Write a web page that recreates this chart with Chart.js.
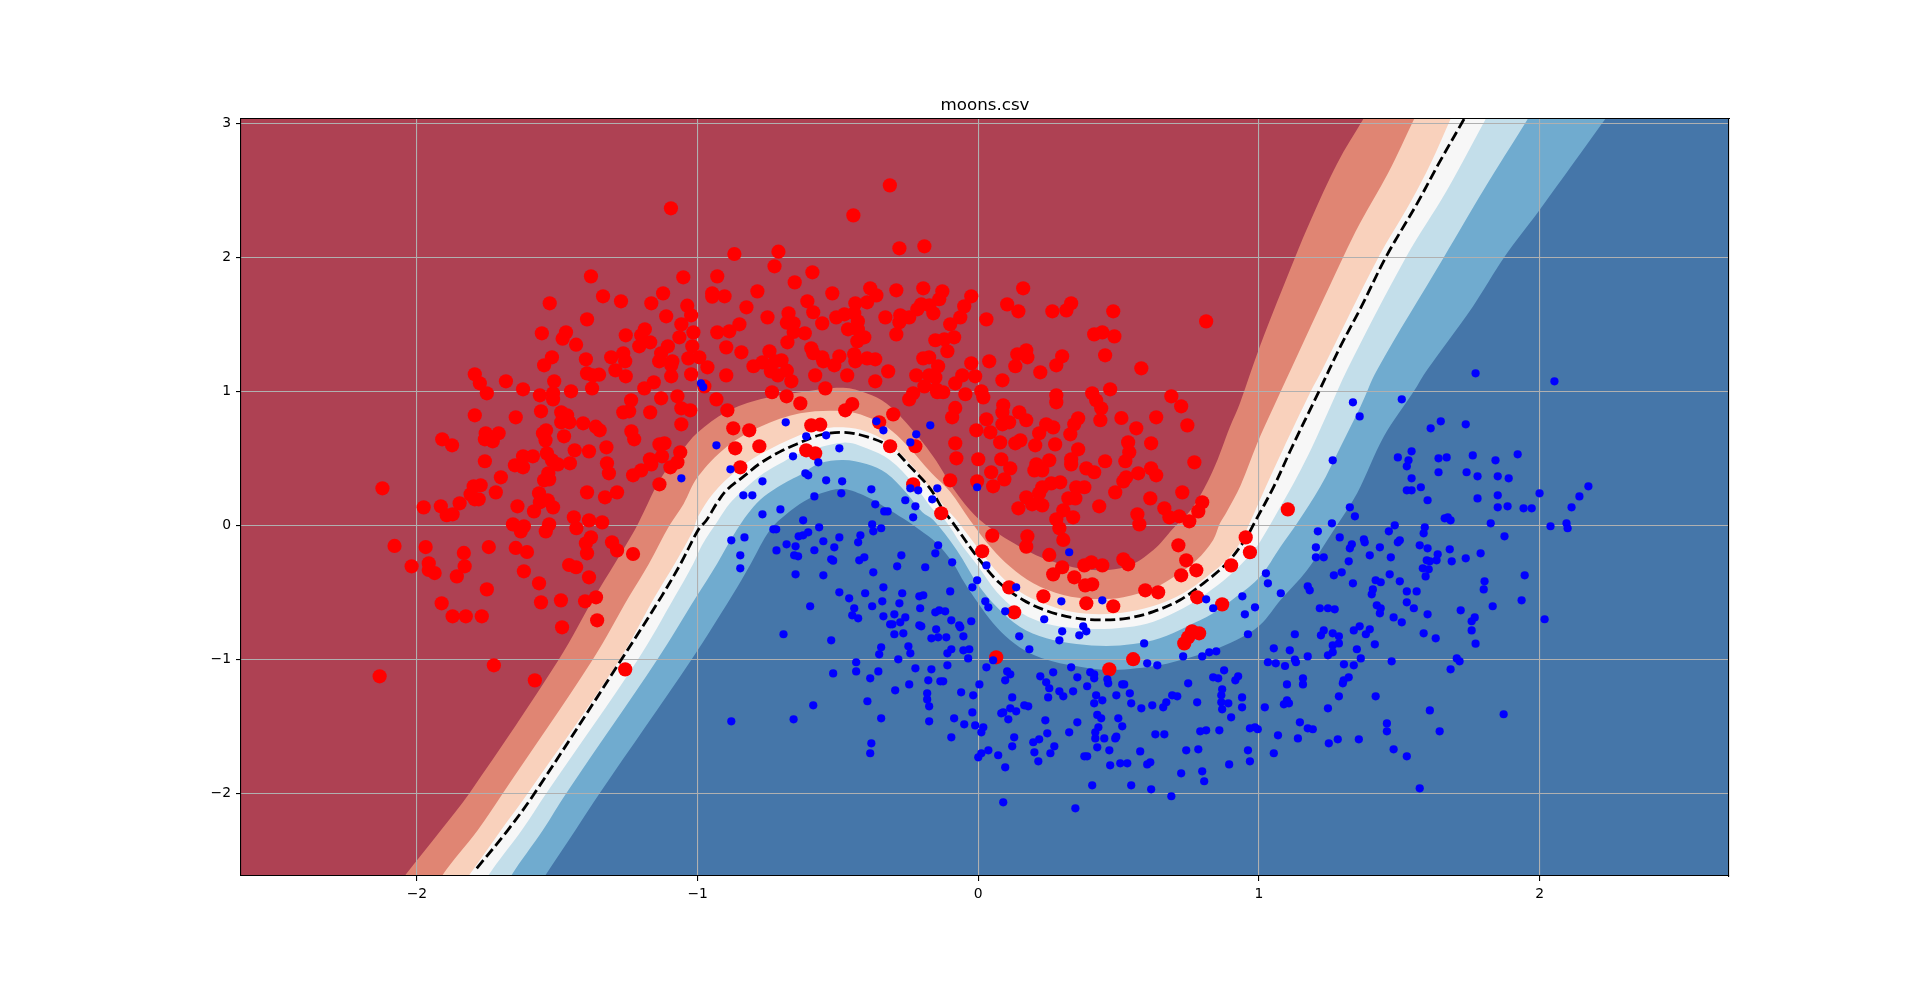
<!DOCTYPE html>
<html>
<head>
<meta charset="utf-8">
<script src="https://cdn.jsdelivr.net/npm/chart.js@4"></script>
<style>html,body{margin:0;padding:0;background:#fff}canvas{display:block}</style>
</head>
<body>
<canvas id="c" width="1920" height="983"></canvas>
<script>
const titleText = "moons.csv";
const xRange = [-2.627, 2.675];
const yRange = [-2.617, 3.032];

const redPoints = [[-1.095,2.366],[-0.445,2.313],[-0.315,2.537],
[-0.869,2.025],[-0.712,2.042],[-0.726,1.933],[-1.38,1.858],[-1.051,1.851],[-0.93,1.858],[-0.654,1.813],[-1.337,1.709],[-1.273,1.672],[-1.123,1.731],[-1.165,1.657],[-0.948,1.731],[-0.948,1.706],[-0.904,1.709],[-0.787,1.746],[-1.527,1.657],[-1.037,1.639],[-1.023,1.567],[-0.826,1.627],[-1.112,1.56],[-0.751,1.552],[-0.676,1.582],[-1.394,1.537],[-1.058,1.5],[-0.851,1.5],[-0.682,1.512],[-0.658,1.507],[-1.555,1.433],[-1.469,1.44],[-1.481,1.393],[-1.188,1.463],[-1.201,1.418],[-1.256,1.418],[-1.015,1.44],[-0.93,1.44],[-0.887,1.448],[-0.658,1.443],[-1.065,1.403],[-1.433,1.348],[-1.169,1.366],[-1.208,1.336],[-1.019,1.336],[-1.106,1.336],[-0.898,1.328],[-0.844,1.291],[-0.744,1.299],[-0.68,1.366],[-1.519,1.254],[-1.265,1.284],[-1.398,1.239],[-1.308,1.254],[-1.258,1.224],[-1.13,1.284],[-1.137,1.224],[-1.09,1.224],[-1.033,1.246],[-0.994,1.254],[-0.701,1.231],[-0.723,1.224],[-1.547,1.194],[-1.094,1.194],[-0.965,1.179],[-0.801,1.187],[-0.769,1.216],[-1.293,1.157],[-1.394,1.134],[-1.373,1.119],[-1.351,1.124],[-1.256,1.112],[-1.094,1.112],[-1.023,1.127],[-0.898,1.119],[-0.739,1.149],[-0.714,1.119],[-0.682,1.154],[-1.794,1.127],[-1.776,1.06],[-1.683,1.075],[-1.511,1.075],[-1.156,1.067],[-0.666,1.075],[-0.976,1.037],[-1.751,0.985],[-1.622,1.015],[-1.562,0.97],[-1.515,0.985],[-1.515,0.94],[-1.451,1.0],[-1.376,1.022],[-1.19,1.022],[-0.735,0.993],[-0.683,0.963],[-1.072,0.963],[-1.13,0.948],[-0.933,0.94],[-1.237,0.933],[-0.634,0.91],[-1.558,0.851],[-1.058,0.873],[-1.026,0.858],[-0.894,0.858],[-1.486,0.843],[-1.465,0.821],[-1.265,0.843],[-1.244,0.851],[-1.169,0.843],[-1.794,0.821],[-1.648,0.806],[-1.486,0.769],[-1.457,0.769],[-1.408,0.761],[-1.058,0.754],[-1.363,0.736],[-1.349,0.709],[-1.54,0.709],[-1.551,0.687],[-1.236,0.701],[-0.873,0.724],[-0.816,0.709],[-1.755,0.687],[-1.709,0.687],[-1.476,0.664],[-1.91,0.642],[-1.758,0.642],[-1.73,0.627],[-1.542,0.634],[-1.226,0.642],[-1.875,0.597],[-1.118,0.612],[-1.136,0.604],[-1.325,0.582],[-0.78,0.59],[-0.866,0.575],[-1.438,0.56],[-1.387,0.552],[-1.062,0.545],[-1.537,0.537],[-1.622,0.515],[-1.587,0.515],[-1.127,0.515],[-1.758,0.478],[-1.519,0.485],[-1.498,0.455],[-1.455,0.463],[-1.323,0.463],[-1.17,0.493],[-1.165,0.455],[-1.651,0.448],[-1.622,0.433],[-1.072,0.47],[-1.097,0.433],[-0.848,0.433],[-1.316,0.388],[-1.201,0.41],[-1.23,0.373],[-1.701,0.358],[-1.532,0.388],[-1.529,0.343],[-1.547,0.336],[-2.123,0.276],[-1.136,0.306],[-1.798,0.291],[-1.773,0.299],[-1.809,0.231],[-1.719,0.246],[-1.565,0.239],[-1.394,0.246],[-1.287,0.246],[-1.33,0.209],[-1.78,0.194],[-1.794,0.194],[-1.534,0.187],[-1.562,0.172],[-1.848,0.164],[-1.976,0.134],[-1.915,0.142],[-1.515,0.134],[-1.642,0.142],[-1.583,0.104],[-1.873,0.082],[-1.894,0.075],[-1.441,0.06],[-1.387,0.037],[-1.34,0.022],[-1.529,0.007],[-1.658,0.007],[-1.619,-0.007],[-1.432,-0.022],[-1.63,-0.045],[-1.541,-0.045],
[-1.38,-0.09],[-1.398,-0.134],[-1.305,-0.127],[-2.08,-0.154],[-1.969,-0.162],[-1.744,-0.162],[-1.648,-0.169],[-1.608,-0.199],[-1.833,-0.206],[-1.394,-0.209],[-1.287,-0.187],[-1.23,-0.214],[-1.958,-0.284],[-2.019,-0.306],[-1.83,-0.306],[-1.958,-0.333],[-1.937,-0.356],[-1.458,-0.296],[-1.433,-0.313],[-1.619,-0.343],[-1.858,-0.381],[-1.387,-0.388],[-1.565,-0.433],[-1.751,-0.478],[-1.362,-0.537],[-1.487,-0.56],[-1.401,-0.567],[-1.558,-0.575],[-1.912,-0.582],[-1.358,-0.709],[-1.873,-0.679],[-1.826,-0.679],[-1.769,-0.679],[-1.483,-0.761],[-1.726,-1.045],[-2.133,-1.127],[-1.58,-1.157],[-1.258,-1.075],
[-0.281,2.067],[-0.192,2.082],[-0.591,1.888],[-0.52,1.731],[-0.385,1.769],[-0.363,1.716],[-0.292,1.754],[-0.196,1.769],[-0.128,1.746],[0.16,1.769],[-0.609,1.672],[-0.438,1.657],[-0.396,1.664],[-0.139,1.687],[-0.025,1.709],[0.103,1.649],[0.331,1.657],[-0.05,1.634],[-0.588,1.59],[-0.203,1.649],[-0.217,1.612],[-0.174,1.642],[-0.16,1.582],[0.143,1.597],[0.264,1.597],[0.314,1.604],[0.481,1.597],[-0.506,1.552],[-0.477,1.575],[-0.442,1.582],[-0.331,1.552],[-0.278,1.567],[-0.246,1.552],[-0.281,1.515],[-0.064,1.552],[0.029,1.537],[0.812,1.522],[-0.556,1.507],[-0.429,1.522],[-0.1,1.5],[-0.464,1.463],[-0.429,1.463],[-0.618,1.433],[-0.292,1.425],[-0.406,1.403],[-0.431,1.373],[-0.086,1.403],[-0.153,1.381],[-0.121,1.388],[0.413,1.425],[0.442,1.44],[0.485,1.41],[-0.595,1.321],[-0.11,1.299],[-0.588,1.284],[-0.556,1.254],[-0.495,1.261],[-0.442,1.276],[0.139,1.276],[0.171,1.306],[0.175,1.254],[0.299,1.261],[0.452,1.269],[-0.552,1.224],[-0.513,1.194],[-0.438,1.224],[-0.396,1.246],[-0.367,1.239],[-0.196,1.246],[-0.175,1.254],[-0.025,1.209],[0.039,1.224],[-0.143,1.187],[0.132,1.187],[0.278,1.194],[0.581,1.172],[-0.321,1.149],[-0.581,1.119],[-0.467,1.119],[-0.221,1.119],[-0.175,1.119],[-0.153,1.104],[-0.057,1.119],[-0.011,1.112],[0.221,1.142],[-0.367,1.075],[0.086,1.082],[-0.082,1.06],[-0.192,1.037],[-0.545,1.022],[0.47,1.015],[-0.232,0.985],[-0.15,1.015],[-0.146,0.993],[-0.125,0.993],[-0.046,0.978],[0.011,1.0],[0.018,0.955],[0.278,0.97],[0.278,0.918],[0.406,0.985],[-0.246,0.94],[0.42,0.933],[0.688,0.963],[0.723,0.888],[-0.449,0.905],[0.089,0.896],[-0.082,0.876],[-0.474,0.858],[0.438,0.873],[0.086,0.843],[0.146,0.843],[-0.303,0.828],[-0.093,0.806],[0.634,0.806],[0.51,0.801],[0.356,0.799],[0.435,0.784],[0.029,0.791],[0.171,0.784],[0.11,0.769],[0.086,0.754],[-0.353,0.769],[-0.595,0.746],[-0.563,0.751],[0.242,0.754],[0.267,0.731],[0.342,0.754],[0.563,0.724],[0.745,0.746],[-0.007,0.709],[0.043,0.694],[0.217,0.687],[0.328,0.679],[-0.082,0.612],[0.078,0.619],[0.15,0.634],[0.132,0.612],[0.203,0.597],[0.274,0.604],[0.534,0.619],[0.616,0.612],[-0.314,0.59],[-0.224,0.59],[-0.613,0.56],[-0.581,0.537],[0.356,0.567],[0.538,0.545],[-0.078,0.5],[0,0.493],[0.082,0.493],[0.253,0.485],[0.331,0.493],[0.452,0.478],[0.524,0.478],[0.77,0.47],[0.331,0.455],[0.207,0.455],[0.114,0.425],[0.385,0.425],[0.2,0.41],[0.228,0.41],[0.413,0.396],[0.616,0.425],[0.57,0.388],[0.634,0.373],[0.046,0.396],[0.527,0.358],[0.517,0.328],[-0.1,0.336],[-0.004,0.328],[0.093,0.343],[-0.232,0.306],[0.053,0.291],[0.26,0.313],[0.292,0.321],[0.228,0.284],[0.349,0.284],[0.378,0.284],[0.217,0.239],[0.488,0.246],[0.727,0.246],[0.171,0.209],[0.321,0.201],[0.346,0.201],[0.613,0.201],[0.798,0.172],[0.192,0.157],[0.228,0.149],[0.143,0.127],[0.431,0.142],[0.303,0.112],[0.663,0.127],[0.784,0.104],[-0.132,0.09],[0.338,0.06],[0.567,0.082],[0.681,0.06],[0.716,0.067],[0.278,0.045],[0.752,0.03],[0.574,0.007],[0.289,-0.022],
[0.05,-0.077],[0.175,-0.082],[0.171,-0.159],[0.303,-0.109],[0.014,-0.194],[0.253,-0.221],[0.713,-0.149],[0.741,-0.261],[0.517,-0.254],[0.534,-0.291],[0.299,-0.313],[0.378,-0.299],[0.403,-0.276],[0.442,-0.299],[0.777,-0.336],[0.901,-0.299],[0.723,-0.373],[0.267,-0.366],[0.342,-0.388],[0.11,-0.463],[0.381,-0.448],[0.406,-0.44],[0.595,-0.485],[0.641,-0.5],[0.232,-0.53],[0.78,-0.537],[0.385,-0.582],[0.481,-0.604],[0.869,-0.59],[0.128,-0.649],[0.762,-0.791],[0.787,-0.806],[0.748,-0.836],[0.734,-0.881],[0.552,-0.999],[0.064,-0.985],[0.467,-1.075],[0.953,-0.09],[0.968,-0.201],[1.103,0.119]];

const bluePoints = [[-0.98,1.032],[-0.988,1.06],[-0.686,0.769],[-0.933,0.597],[-0.66,0.515],[-1.058,0.351],[-0.883,0.418],[-0.769,0.328],[-0.837,0.224],[-0.805,0.224],[-0.769,0.082],[-0.705,0.119],[-0.73,-0.03],[-0.72,-0.03],[-0.833,-0.09],[-0.88,-0.112],[-0.64,-0.082],
[-0.683,-0.142],[-0.651,-0.157],[-0.719,-0.187],[-0.848,-0.224],[-0.656,-0.224],[-0.642,-0.231],[-0.848,-0.321],[-0.651,-0.366],[-0.694,-0.813],[-0.88,-1.463],[-0.658,-1.448],
[-0.613,0.664],[-0.542,0.672],[-0.363,0.776],[-0.338,0.709],[-0.221,0.679],[-0.171,0.746],[-0.242,0.619],[-0.495,0.575],[-0.57,0.47],[-0.616,0.388],[-0.606,0.373],[-0.542,0.336],[-0.485,0.328],[-0.381,0.269],[-0.488,0.239],[-0.584,0.216],[-0.214,0.261],[-0.146,0.276],[-0.004,0.284],[-0.242,0.276],[-0.26,0.187],[-0.164,0.194],[-0.367,0.157],[-0.224,0.142],[-0.335,0.104],[-0.323,0.104],[-0.232,0.06],[-0.624,0.037],[-0.378,0.007],[-0.567,-0.015],[-0.346,-0.022],[-0.374,-0.045],[-0.606,-0.052],[-0.42,-0.075],[-0.495,-0.09],[-0.624,-0.075],[-0.552,-0.119],
[-0.428,-0.127],[-0.513,-0.164],[-0.584,-0.186],[-0.143,-0.149],[-0.153,-0.209],[-0.274,-0.224],[-0.406,-0.239],[-0.424,-0.261],[-0.524,-0.254],[-0.517,-0.264],[-0.093,-0.276],[-0.289,-0.306],[-0.189,-0.313],[0.029,-0.299],[0.324,-0.201],[-0.374,-0.351],[-0.552,-0.373],[-0.004,-0.41],[-0.021,-0.463],[0.135,-0.463],[-0.338,-0.463],[-0.1,-0.493],[-0.495,-0.5],[-0.403,-0.507],[-0.271,-0.507],[-0.21,-0.53],[-0.196,-0.522],[-0.46,-0.545],[-0.342,-0.567],[-0.281,-0.582],[0.296,-0.567],[0.442,-0.56],[0.025,-0.567],[-0.599,-0.604],[-0.378,-0.604],[-0.442,-0.619],[0.036,-0.612],[-0.207,-0.619],[0.812,-0.552],[0.837,-0.619],[-0.449,-0.672],[-0.153,-0.649],[-0.139,-0.634],[-0.118,-0.642],[0.096,-0.642],[-0.338,-0.679],[-0.299,-0.664],[-0.428,-0.694],[-0.26,-0.687],[0.235,-0.701],[-0.025,-0.716],[-0.096,-0.709],[-0.278,-0.724],[-0.314,-0.739],[-0.306,-0.739],[-0.21,-0.746],[-0.203,-0.754],[-0.068,-0.746],[-0.064,-0.761],[0.374,-0.754],[0.385,-0.791],[0.299,-0.791],[-0.15,-0.776],[-0.299,-0.813],[-0.267,-0.806],[0.36,-0.821],[-0.167,-0.843],[-0.143,-0.836],[-0.114,-0.836],[-0.053,-0.828],[0.146,-0.828],[0.289,-0.858],[-0.524,-0.858],[0.591,-0.881],[-0.249,-0.903],[-0.346,-0.91],[0.182,-0.925],[-0.096,-0.925],[-0.053,-0.933],[-0.032,-0.925],[-0.353,-0.963],[-0.242,-0.955],[-0.11,-0.955],[-0.036,-0.993],[-0.285,-1],[0.053,-1.007],[0.73,-0.978],[0.798,-0.978],[0.823,-0.948],[0.848,-0.94],[-0.435,-1.022],[-0.11,-1.045],[0.602,-1.03],[0.638,-1.045],[-0.224,-1.067],[-0.167,-1.075],[-0.435,-1.09],[0.029,-1.06],[0.331,-1.06],[0.103,-1.09],[0.114,-1.112],[-0.356,-1.09],[0.267,-1.097],[0.399,-1.097],[0.413,-1.112],[-0.517,-1.105],[0.413,-1.142],[0.221,-1.127],[0.353,-1.134],[0.876,-1.082],[-0.385,-1.142],[0.837,-1.134],[0.855,-1.142],[0.926,-1.127],[0.916,-1.157],[-0.178,-1.157],[-0.135,-1.164],[-0.125,-1.164],[0.096,-1.157],[0.242,-1.172],[0.46,-1.149],[0.463,-1.179],[-0.246,-1.187],[0.004,-1.187],[0.388,-1.201],[0.513,-1.187],[0.52,-1.187],[0.748,-1.179],[0.253,-1.216],[-0.296,-1.231],[0.338,-1.239],[0.289,-1.239],[0.869,-1.224],[-0.061,-1.246],[-0.182,-1.254],[-0.018,-1.269],[0.42,-1.269],[0.492,-1.269],[0.54,-1.254],[0.691,-1.269],[0.709,-1.276],[0.866,-1.269],[0.121,-1.284],[0.249,-1.284],[0.303,-1.276],[-0.182,-1.299],[0.442,-1.306],[-0.395,-1.313],[0.78,-1.321],[0.67,-1.321],[0.866,-1.321],[0.891,-1.328],[0.413,-1.328],[0.545,-1.328],[-0.588,-1.343],[-0.175,-1.351],[0.164,-1.343],[0.178,-1.351],[0.581,-1.366],[0.62,-1.343],[0.659,-1.358],[0.114,-1.366],[0.869,-1.373],[-0.021,-1.396],[0.135,-1.388],[0.082,-1.403],[0.089,-1.396],[0.424,-1.415],[0.438,-1.44],[-0.346,-1.44],[-0.086,-1.44],[0.107,-1.448],[0.239,-1.455],[0.499,-1.44],[0.901,-1.433],[-0.175,-1.463],[0.353,-1.47],[-0.05,-1.485],[-0.011,-1.493],[0.513,-1.5],[0.018,-1.507],[0.428,-1.507],[0.011,-1.545],[0.246,-1.552],[0.324,-1.545],[0.417,-1.545],[0.631,-1.56],[0.663,-1.56],[0.791,-1.537],[0.812,-1.53],[0.859,-1.53],[-0.096,-1.582],[0.128,-1.582],[0.217,-1.597],[0.417,-1.59],[0.449,-1.59],[0.492,-1.577],[0.488,-1.59],[0.196,-1.619],[-0.381,-1.627],[0.121,-1.649],[0.271,-1.649],[0.424,-1.657],[0.036,-1.679],[0.467,-1.679],[0.577,-1.687],[0.741,-1.679],[0.784,-1.672],[-0.385,-1.701],[0.2,-1.694],[0.257,-1.701],[0.011,-1.701],[0,-1.731],[0.071,-1.716],[0.378,-1.724],[0.388,-1.724],[0.214,-1.761],[0.506,-1.776],[0.531,-1.776],[0.613,-1.769],[0.602,-1.784],[0.47,-1.791],[0.894,-1.784],[0.096,-1.806],[0.798,-1.836],[0.723,-1.851],[0.805,-1.91],[0.406,-1.94],[0.545,-1.94],[0.616,-1.97],[0.688,-2.022],[0.089,-2.067],[0.346,-2.112],
[1.772,1.134],[2.053,1.075],[1.335,0.918],[1.509,0.94],[1.359,0.813],[1.648,0.776],[1.737,0.754],[1.612,0.724],[1.544,0.552],[1.495,0.507],[1.922,0.53],[1.762,0.522],[1.669,0.507],[1.64,0.5],[1.533,0.485],[1.843,0.485],[1.263,0.485],[1.527,0.44],[1.64,0.396],[1.74,0.396],[1.779,0.366],[1.851,0.366],[1.89,0.351],[1.544,0.351],[1.577,0.284],[1.527,0.261],[1.544,0.261],[2.174,0.291],[2.0,0.239],[2.142,0.216],[1.851,0.224],[1.779,0.201],[1.601,0.187],[1.851,0.134],[1.886,0.142],[1.943,0.127],[1.972,0.127],[2.114,0.134],[1.324,0.134],[1.342,0.067],[1.673,0.06],[1.662,0.052],[1.683,0.037],[1.26,0.015],[1.484,0],[1.826,0.015],[2.096,0.015],[1.591,-0.015],[2.039,-0.007],[2.1,-0.022],[1.21,-0.045],[1.463,-0.045],[1.587,-0.06],[1.288,-0.09],[1.875,-0.082],[1.374,-0.104],[1.377,-0.127],[1.502,-0.112],[1.495,-0.127],[1.331,-0.142],[1.324,-0.172],[1.573,-0.149],[1.431,-0.164],[1.203,-0.164],[1.601,-0.172],[1.68,-0.179],[1.637,-0.216],[1.395,-0.224],[1.79,-0.209],[1.203,-0.239],[1.231,-0.239],[1.47,-0.239],[1.737,-0.246],[1.598,-0.261],[1.609,-0.269],[1.633,-0.261],[1.687,-0.269],[1.32,-0.269],[1.584,-0.321],[1.605,-0.328],[1.295,-0.351],[1.025,-0.358],[1.466,-0.366],[1.267,-0.373],[1.947,-0.373],[1.594,-0.381],[1.416,-0.41],[1.434,-0.425],[1.804,-0.418],[1.502,-0.418],[1.032,-0.433],[1.335,-0.433],[1.174,-0.455],[1.406,-0.478],[1.801,-0.478],[1.181,-0.485],[1.527,-0.493],[1.562,-0.493],[1.402,-0.515],[1.078,-0.507],[0.941,-0.53],[1.936,-0.56],[1.527,-0.575],[1.42,-0.597],[1.434,-0.619],[1.833,-0.604],[0.986,-0.612],[1.217,-0.619],[1.246,-0.619],[1.27,-0.627],[1.552,-0.619],[1.719,-0.634],[1.431,-0.657],[1.601,-0.664],[0.95,-0.664],[1.48,-0.687],[1.769,-0.687],[2.018,-0.701],[1.758,-0.716],[1.509,-0.724],[1.359,-0.754],[1.231,-0.784],[1.338,-0.784],[1.395,-0.776],[1.758,-0.784],[1.128,-0.813],[1.221,-0.821],[1.263,-0.806],[1.285,-0.828],[1.381,-0.813],[1.587,-0.806],[0.961,-0.813],[1.63,-0.843],[1.772,-0.883],[1.263,-0.896],[1.285,-0.881],[1.413,-0.888],[1.053,-0.918],[1.11,-0.933],[1.349,-0.925],[1.263,-0.948],[1.246,-0.97],[1.174,-0.978],[1.363,-0.993],[1.705,-0.993],[1.715,-1.015],[1.128,-1.002],[1.132,-1.022],[1.032,-1.022],[1.06,-1.03],[1.093,-1.05],[1.303,-1.037],[1.338,-1.045],[1.473,-1.015],[1.683,-1.075],
[1.1,-1.187],[1.157,-1.142],[1.157,-1.187],[1.32,-1.134],[1.302,-1.157],[1.299,-1.179],[0.94,-1.284],[0.94,-1.358],[1.021,-1.358],[0.961,-1.679],[0.968,-1.761],[0.986,-1.507],[0.968,-1.515],[0.996,-1.522],[1.285,-1.276],[1.416,-1.276],[1.089,-1.336],[1.1,-1.306],[1.107,-1.328],[1.246,-1.366],[1.609,-1.381],[1.872,-1.41],[1.146,-1.47],[1.174,-1.515],[1.192,-1.522],[1.456,-1.478],[1.456,-1.537],[1.644,-1.537],[1.068,-1.567],[1.139,-1.59],[1.281,-1.597],[1.249,-1.627],[1.356,-1.597],[1.48,-1.672],[1.053,-1.701],[1.527,-1.724],[1.573,-1.963]];

const decisionBoundary = [[-1.787,-2.56],[-1.676,-2.274],[-1.581,-2],[-1.271,-1],[-1.129,-0.532],[-1.06,-0.284],[-0.998,-0.035],[-0.968,0.04],[-0.932,0.164],[-0.896,0.264],[-0.837,0.363],[-0.777,0.463],[-0.706,0.55],[-0.646,0.607],[-0.564,0.674],[-0.481,0.694],[-0.398,0.662],[-0.315,0.587],[-0.243,0.438],[-0.172,0.276],[-0.125,0.114],[-0.089,0.015],[0,-0.246],[0.077,-0.433],[0.16,-0.557],[0.243,-0.637],[0.338,-0.689],[0.433,-0.706],[0.529,-0.694],[0.624,-0.644],[0.719,-0.557],[0.802,-0.433],[0.885,-0.284],[0.95,-0.109],[0.983,0.015],[1.053,0.289],[1.113,0.562],[1.214,1],[1.29,1.333],[1.365,1.632],[1.452,2],[1.564,2.403],[1.641,2.701],[1.731,3.032]];

const levelDarkBlue = [[-2.627,-2.617],[2.675,-2.617]];
const levelMidBlue = [[-2.627,-3.2],[-1.726,-3.2],[-1.544,-2.617],[-1.435,-2.274],[-1.349,-2],[-1.021,-1],[-0.879,-0.532],[-0.81,-0.284],[-0.742,-0.035],[-0.68,0.09],[-0.62,0.18],[-0.56,0.24],[-0.481,0.271],[-0.398,0.214],[-0.327,0.13],[-0.267,0.05],[-0.208,-0.035],[-0.148,-0.134],[-0.089,-0.284],[-0.048,-0.433],[0,-0.582],[0.053,-0.731],[0.113,-0.856],[0.184,-0.955],[0.267,-1.017],[0.362,-1.055],[0.469,-1.08],[0.564,-1.067],[0.648,-1.042],[0.742,-0.993],[0.837,-0.93],[0.92,-0.856],[1.004,-0.744],[1.077,-0.557],[1.172,-0.333],[1.267,-0.035],[1.35,0.239],[1.445,0.662],[1.552,1.0],[1.599,1.159],[1.762,1.632],[1.874,2],[2,2.353],[2.234,3.032]];
const levelLightBlue = [[-2.627,-3.2],[-1.831,-3.2],[-1.665,-2.617],[-1.551,-2.274],[-1.468,-2],[-1.143,-1],[-1.004,-0.532],[-0.93,-0.284],[-0.861,-0.035],[-0.801,0.139],[-0.748,0.239],[-0.682,0.326],[-0.635,0.376],[-0.564,0.463],[-0.481,0.488],[-0.398,0.458],[-0.327,0.388],[-0.255,0.239],[-0.2,0.1],[-0.16,0.04],[-0.077,-0.184],[0,-0.445],[0.065,-0.607],[0.148,-0.756],[0.243,-0.843],[0.35,-0.886],[0.457,-0.9],[0.552,-0.886],[0.647,-0.843],[0.742,-0.756],[0.837,-0.657],[0.92,-0.532],[1.004,-0.383],[1.077,-0.159],[1.136,0.015],[1.219,0.289],[1.291,0.587],[1.362,0.886],[1.421,1.159],[1.659,2],[1.8,2.5],[1.958,3.032]];
const levelWhite = [[-2.627,-3.2],[-1.92,-3.2],[-1.747,-2.617],[-1.626,-2.274],[-1.539,-2],[-1.212,-1],[-1.081,-0.532],[-1.015,-0.284],[-0.985,-0.15],[-0.926,0.04],[-0.885,0.164],[-0.837,0.264],[-0.765,0.388],[-0.694,0.475],[-0.635,0.537],[-0.481,0.617],[-0.398,0.575],[-0.315,0.488],[-0.232,0.313],[-0.16,0.114],[-0.119,0.04],[-0.059,-0.147],[0,-0.308],[0.065,-0.495],[0.137,-0.632],[0.22,-0.719],[0.315,-0.761],[0.422,-0.774],[0.529,-0.761],[0.624,-0.719],[0.73,-0.619],[0.814,-0.507],[0.897,-0.371],[0.968,-0.221],[1.004,-0.122],[1.077,0.14],[1.136,0.363],[1.19,0.587],[1.255,0.886],[1.314,1.159],[1.524,2],[1.67,2.5],[1.808,3.032]];
const levelPeach = [[-2.627,-3.2],[-2.021,-3.2],[-1.816,-2.617],[-1.7,-2.274],[-1.605,-2],[-1.277,-1],[-1.152,-0.532],[-1.081,-0.284],[-1.015,-0.035],[-1,0.06],[-0.944,0.24],[-0.861,0.41],[-0.777,0.53],[-0.635,0.674],[-0.56,0.72],[-0.481,0.731],[-0.398,0.699],[-0.327,0.624],[-0.255,0.488],[-0.184,0.313],[-0.113,0.12],[-0.077,0.04],[0,-0.172],[0.077,-0.371],[0.148,-0.495],[0.232,-0.582],[0.327,-0.644],[0.433,-0.664],[0.54,-0.644],[0.635,-0.595],[0.73,-0.507],[0.814,-0.383],[0.885,-0.259],[0.932,-0.134],[0.972,0.04],[1.025,0.289],[1.085,0.562],[1.185,1.0],[1.225,1.159],[1.426,2],[1.538,2.403],[1.612,2.7],[1.683,3.032]];
const levelSalmon = [[-2.627,-3.2],[-2.083,-3.2],[-1.911,-2.617],[-1.783,-2.274],[-1.694,-2],[-1.373,-1],[-1.244,-0.532],[-1.173,-0.284],[-1.1,0],[-1.05,0.16],[-1,0.36],[-0.896,0.587],[-0.777,0.736],[-0.635,0.836],[-0.481,0.853],[-0.398,0.811],[-0.327,0.736],[-0.255,0.6],[-0.166,0.388],[-0.1,0.25],[-0.03,0.04],[0.048,-0.172],[0.113,-0.308],[0.196,-0.433],[0.303,-0.52],[0.41,-0.55],[0.517,-0.537],[0.624,-0.47],[0.707,-0.371],[0.778,-0.259],[0.837,-0.109],[0.861,0.015],[0.885,0.1],[0.935,0.3],[0.994,0.612],[1.053,0.886],[1.113,1.159],[1.3,2],[1.36,2.254],[1.46,2.627],[1.553,3.032]];
const levelDarkRed = [[-2.627,-3.2],[-2.256,-3.2],[-2.044,-2.617],[-1.914,-2.274],[-1.813,-2],[-1.494,-1],[-1.367,-0.532],[-1.295,-0.284],[-1.224,-0.035],[-1.194,0.09],[-1.135,0.338],[-1.063,0.537],[-1,0.692],[-0.896,0.848],[-0.777,0.94],[-0.635,0.993],[-0.481,1.027],[-0.398,0.985],[-0.327,0.91],[-0.255,0.761],[-0.16,0.512],[-0.077,0.239],[0.006,0.04],[0.148,-0.159],[0.267,-0.271],[0.41,-0.333],[0.529,-0.308],[0.624,-0.184],[0.695,-0.022],[0.766,0.139],[0.837,0.413],[0.897,0.736],[0.932,0.91],[1.003,1.333],[1.129,2],[1.185,2.279],[1.279,2.701],[1.372,3.032]];

const toXY = a => a.map(p => ({x: p[0], y: p[1]}));
const band = (curve, color) => ({
  data: toXY(curve), showLine: true, borderWidth: 0, pointRadius: 0,
  backgroundColor: color, fill: 'end', tension: 0.35
});
const minusTick = v => String(v).replace('-', '\u2212');
const tickFont = {family: '"DejaVu Sans"', size: 13.9};

new Chart(document.getElementById('c'), {
  type: 'scatter',
  data: {datasets: [
    {data: toXY(bluePoints), backgroundColor: '#0000ff', pointRadius: 4.1, borderWidth: 0, pointBorderWidth: 0},
    {data: toXY(redPoints), backgroundColor: '#ff0000', pointRadius: 7.1, borderWidth: 0, pointBorderWidth: 0},
    {data: toXY(decisionBoundary), showLine: true, pointRadius: 0, borderColor: '#000', borderWidth: 2.8, borderDash: [10.3, 4.4], tension: 0.35, fill: false},
    band(levelDarkRed, '#AE4153'),
    band(levelSalmon, '#E08573'),
    band(levelPeach, '#F9D1BC'),
    band(levelWhite, '#F7F7F7'),
    band(levelLightBlue, '#C3DEEA'),
    band(levelMidBlue, '#70ABCF'),
    band(levelDarkBlue, '#4576A9')
  ]},
  options: {
    responsive: false, animation: false, devicePixelRatio: 1,
    layout: {padding: {left: 0, right: 191, top: 0, bottom: 0}},
    plugins: {
      legend: {display: false}, tooltip: {enabled: false},
      filler: {drawTime: 'beforeDraw', propagate: false},
      title: {display: true, text: titleText, fullSize: false, color: '#000',
        font: {family: '"DejaVu Sans"', size: 16.7, weight: 'normal'},
        padding: {top: 96, bottom: 3}}
    },
    scales: {
      x: {type: 'linear', min: xRange[0], max: xRange[1],
        afterFit: s => { s.height = 107; },
        grid: {color: '#b0b0b0', lineWidth: 1.1, tickColor: '#000', tickLength: 5, z: -1},
        border: {color: '#000', width: 1.1},
        ticks: {stepSize: 1, includeBounds: false, color: '#000', font: tickFont, padding: 5, maxRotation: 0, callback: minusTick}},
      y: {type: 'linear', min: yRange[0], max: yRange[1],
        afterFit: s => { s.width = 241; },
        grid: {color: '#b0b0b0', lineWidth: 1.1, tickColor: '#000', tickLength: 5, z: -1},
        border: {color: '#000', width: 1.1},
        ticks: {stepSize: 1, includeBounds: false, color: '#000', font: tickFont, padding: 5, callback: minusTick}},
      xTop: {type: 'linear', axis: 'x', position: 'top', min: xRange[0], max: xRange[1],
        afterFit: s => { s.height = 0; },
        grid: {display: false}, border: {color: '#000', width: 1.1}, ticks: {display: false}},
      yRight: {type: 'linear', axis: 'y', position: 'right', min: yRange[0], max: yRange[1],
        afterFit: s => { s.width = 0; },
        grid: {display: false}, border: {color: '#000', width: 1.1}, ticks: {display: false}}
    }
  }
});
</script>
</body>
</html>
